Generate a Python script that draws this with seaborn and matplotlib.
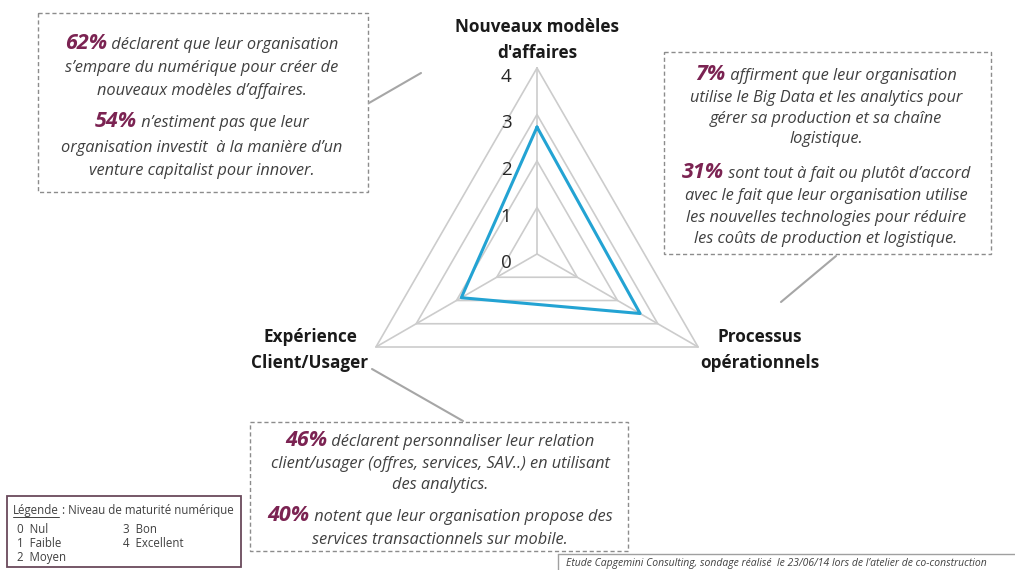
from matplotlib import pyplot as plt
import matplotlib.transforms as mtransforms
from matplotlib.patches import Rectangle
from matplotlib.lines import Line2D
import seaborn as sns
import numpy as np

# donnees
axes_labels = ["Nouveaux modèles\nd'affaires", "Processus\nopérationnels", "Expérience\nClient/Usager"]
scores = [2.73, 2.56, 1.88]
levels = [0, 1, 2, 3, 4]
legend_levels = ["0  Nul", "1  Faible", "2  Moyen", "3  Bon", "4  Excellent"]

box_top_left = [
    [("62%", "pct"), (" déclarent que leur organisation", "txt")],
    [("s’empare du numérique pour créer de", "txt")],
    [("nouveaux modèles d’affaires.", "txt")],
    [("54%", "pct"), (" n’estiment pas que leur", "txt")],
    [("organisation investit  à la manière d’un", "txt")],
    [("venture capitalist pour innover.", "txt")],
]
box_top_right = [
    [("7%", "pct"), (" affirment que leur organisation", "txt")],
    [("utilise le Big Data et les analytics pour", "txt")],
    [("gérer sa production et sa chaîne", "txt")],
    [("logistique.", "txt")],
    [("31%", "pct"), (" sont tout à fait ou plutôt d’accord", "txt")],
    [("avec le fait que leur organisation utilise", "txt")],
    [("les nouvelles technologies pour réduire", "txt")],
    [("les coûts de production et logistique.", "txt")],
]
box_bottom = [
    [("46%", "pct"), (" déclarent personnaliser leur relation", "txt")],
    [("client/usager (offres, services, SAV..) en utilisant", "txt")],
    [("des analytics.", "txt")],
    [("40%", "pct"), (" notent que leur organisation propose des", "txt")],
    [("services transactionnels sur mobile.", "txt")],
]
footer = "Etude Capgemini Consulting, sondage réalisé  le 23/06/14 lors de l’atelier de co-construction"

W, H = 1015, 570
PURPLE = '#7b2352'
GREY_TXT = '#404040'
BLUE = '#23a3d3'
GRID = '#cccccc'

sns.set_theme(style="white")
plt.rcParams['font.family'] = ['Open Sans', 'DejaVu Sans']

fig = plt.figure(figsize=(W / 100, H / 100), dpi=100, facecolor='white')
px = mtransforms.Affine2D().scale(1 / W, -1 / H).translate(0, 1) + fig.transFigure
rend = fig.canvas.get_renderer()

# radar
cx, cy, rad = 537, 254, 186
ax = fig.add_axes([(cx - rad) / W, (H - cy - rad) / H, 2 * rad / W, 2 * rad / H],
                  projection='polar')
ax.set_theta_offset(np.pi / 2)
ax.set_theta_direction(-1)
ax.set_ylim(0, 4)
ax.set_axis_off()

theta = np.linspace(0, 2 * np.pi, len(axes_labels), endpoint=False)
theta_c = np.append(theta, 2 * np.pi)
for k in levels[1:]:
    ax.plot(theta_c, [k] * len(theta_c), color=GRID, lw=1.2, clip_on=False)
for t in theta:
    ax.plot([t, t], [0, levels[-1]], color=GRID, lw=1.2, clip_on=False)
sns.lineplot(x=theta_c, y=scores + scores[:1], sort=False, estimator=None,
             color=BLUE, lw=2.2, ax=ax, clip_on=False)
for k in levels:
    ax.annotate(str(k), xy=(0, k), xytext=(-31, -9), textcoords='offset pixels',
                ha='center', va='center', fontsize=13.5, color='#262626')

lab_pos = [(537, 40), (760, 350), (310, 350)]
for lab, (x, y) in zip(axes_labels, lab_pos):
    fig.text(x / W, 1 - y / H, lab, ha='center', va='center', fontsize=12.3,
             fontweight='bold', color='#1a1a1a', linespacing=1.55)

styles = {
    'pct': dict(fontsize=15.5, fontweight='bold', fontstyle='italic', color=PURPLE),
    'txt': dict(fontsize=11.8, fontstyle='italic', color=GREY_TXT),
}


def mixed_line(parts, x, y):
    texts = []
    for s, st in parts:
        texts.append(fig.text(0, 0, s, transform=px, va='baseline', ha='left', **styles[st]))
    widths = [t.get_window_extent(renderer=rend).width for t in texts]
    x0 = x - sum(widths) / 2
    for t, w in zip(texts, widths):
        t.set_position((x0, y))
        x0 += w


def text_box(lines, ys, x, rect):
    fig.add_artist(Rectangle((rect[0], rect[1]), rect[2] - rect[0], rect[3] - rect[1],
                             transform=px, fill=False, edgecolor='#8c8c8c', lw=1,
                             linestyle=(0, (3, 2))))
    for parts, y in zip(lines, ys):
        mixed_line(parts, x, y)


text_box(box_top_left, [49, 72, 95, 127, 152, 175], 202, (38, 13, 368, 192))
text_box(box_top_right, [80, 102, 123, 143, 178, 200, 222, 243], 826, (664, 52, 991, 254))
text_box(box_bottom, [446, 468, 489, 521, 544], 440, (250, 422, 628, 551))

# traits de liaison
for (x0, y0, x1, y1) in [(369, 103, 421, 73), (781, 302, 836, 256), (372, 369, 463, 421)]:
    fig.add_artist(Line2D([x0, x1], [y0, y1], transform=px, color='#a6a6a6', lw=1.5))

# legende
fig.add_artist(Rectangle((7, 496), 234, 71, transform=px, fill=False,
                         edgecolor='#6a4a5c', lw=1.3))
t = fig.text(13, 514, "Légende", transform=px, fontsize=8.3, color=GREY_TXT, va='baseline')
bb = t.get_window_extent(renderer=rend)
fig.text(13 + bb.width, 514, " : Niveau de maturité numérique", transform=px,
         fontsize=8.3, color=GREY_TXT, va='baseline')
fig.add_artist(Line2D([13, 13 + bb.width], [516.5, 516.5], transform=px, color=GREY_TXT, lw=0.7))
leg_pos = [(17, 533), (17, 547), (17, 561), (123, 533), (123, 547)]
for s, (x, y) in zip(legend_levels, leg_pos):
    fig.text(x, y, s, transform=px, fontsize=8.3, color=GREY_TXT, va='baseline')

# source (raccourcie pour tenir dans la largeur)
fig.add_artist(Line2D([558, W], [554, 554], transform=px, color='#a0a0a0', lw=1))
fig.add_artist(Line2D([558, 558], [554, H], transform=px, color='#a0a0a0', lw=1))
fig.text(566, 566, footer, transform=px, fontsize=7.5, fontstyle='italic',
         color=GREY_TXT, va='baseline')

plt.savefig("out.png", dpi=100, facecolor='white')
